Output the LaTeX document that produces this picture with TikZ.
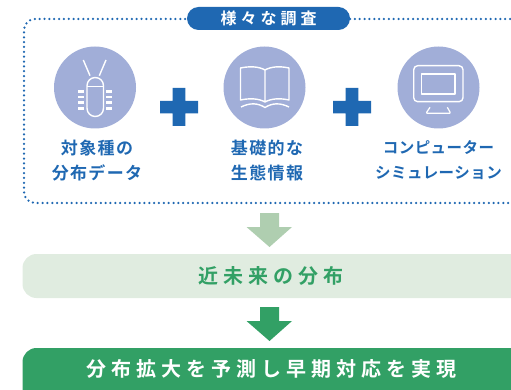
\documentclass[tikz,border=0pt]{standalone}
\usepackage{fontspec}
\setmainfont{Noto Sans CJK JP}
\newfontfamily\jpA[LetterSpace=8]{Noto Sans CJK JP Bold}
\newfontfamily\jpK[LetterSpace=3]{Noto Sans CJK JP Bold}
\newfontfamily\jpB[LetterSpace=25]{Noto Sans CJK JP Bold}
\definecolor{blueA}{HTML}{1F68B2}
\definecolor{discA}{HTML}{A1AED8}
\definecolor{greenA}{HTML}{32A065}
\definecolor{greenL}{HTML}{AFCEB0}
\definecolor{panelA}{HTML}{E0ECE0}
\tikzset{
  disc/.style={circle,fill=discA,minimum size=82pt,inner sep=0pt},
  icon/.style={draw=white,line width=1.4pt,line join=round},
  legbar/.style={fill=white,draw=none},
  plusmark/.style={fill=blueA,draw=none},
  capt/.style={text=blueA,font=\fontsize{17}{18}\selectfont\jpA,inner sep=0pt,anchor=center},
  captk/.style={text=blueA,font=\fontsize{15.5}{18}\selectfont\jpK,inner sep=0pt,anchor=center},
}
\begin{document}
\begin{tikzpicture}[x=1pt,y=-1pt]
\useasboundingbox (0,0) rectangle (511,390);
% dotted frame
\draw[blueA,line width=2.5pt,line cap=round,dash pattern=on 0pt off 4.85pt,rounded corners=11pt]
  (190,19) -- (24,19) -- (24,203) -- (530,203);
\draw[blueA,line width=2.5pt,line cap=round,dash pattern=on 0pt off 4.85pt]
  (350,19) -- (530,19);
% banner
\node[fill=blueA,rounded corners=11.5pt,minimum width=163pt,minimum height=23pt,inner sep=0pt,
      text=white,font=\fontsize{16}{18}\selectfont\jpB] (banner) at (268.5,18.5) {様々な調査};
% discs
\node[disc] (d1) at (95,87.5) {};
\node[disc] (d2) at (264.5,87.5) {};
\node[disc] (d3) at (438.5,87.5) {};
% bug
\draw[icon] (83.3,60) -- (90,75.7) (106,60) -- (99.3,75.7);
\draw[icon] (87,86.5) -- (103.5,86.5);
\draw[icon,rounded corners=8.2pt] (87,116.5) rectangle (103.5,77.5);
\foreach \yy in {90,95.7,101,107}{
  \fill[legbar] (77.5,\yy) rectangle (84,\yy+2.6);
  \fill[legbar] (106,\yy) rectangle (112,\yy+2.6);
}
% book
\draw[icon] (265,70) .. controls (259,66.5) and (250,66) .. (240.5,68) -- (240.5,100)
  .. controls (250,98) and (259,98.5) .. (265,102)
  .. controls (271,98.5) and (280,98) .. (289,100) -- (289,68)
  .. controls (280,66) and (271,66.5) .. (265,70) -- (265,102);
\draw[icon] (241,107) .. controls (250,102.5) and (258,103) .. (265,107.5) .. controls (272,103) and (280,102.5) .. (289,107);
% monitor
\draw[icon,rounded corners=4pt] (413.7,65.7) rectangle (463,101.7);
\draw[icon] (421.7,74) rectangle (455,94);
\draw[icon,line width=1.2pt,rounded corners=1pt] (430,107.3) -- (426,113.3) -- (450.7,113.3) -- (447.3,107.3);
% plus
\foreach \xx in {179,352}{
  \fill[plusmark] (\xx-6.3,88) -- (\xx+6.3,88) -- (\xx+6.3,101) -- (\xx+19,101) -- (\xx+19,113.5) -- (\xx+6.3,113.5)
    -- (\xx+6.3,126) -- (\xx-6.3,126) -- (\xx-6.3,113.5) -- (\xx-19,113.5) -- (\xx-19,101) -- (\xx-6.3,101) -- cycle;
}
% captions
\node[capt] (c1a) at (97,148) {対象種の};
\node[capt] (c1b) at (97,173) {分布データ};
\node[capt] (c2a) at (267,148) {基礎的な};
\node[capt] (c2b) at (267,173) {生態情報};
\node[captk] (c3a) at (438.5,148) {コンピューター};
\node[captk] (c3b) at (438.5,173) {シミュレーション};
% arrows
\fill[greenL] (260,213) -- (279,213) -- (279,227) -- (292,227) -- (269.5,247) -- (246.5,227) -- (260,227) -- cycle;
\fill[greenA] (260,307) -- (279,307) -- (279,321) -- (292,321) -- (269.5,341) -- (246.5,321) -- (260,321) -- cycle;
% panels
\fill[panelA,rounded corners=14pt] (22.5,254) rectangle (540,298);
\node[text=greenA,font=\fontsize{20}{24}\selectfont\jpB,inner sep=0pt] (t1) at (271,275.5) {近未来の分布};
\fill[greenA,rounded corners=14pt] (22.5,348) rectangle (540,420);
\node[text=white,font=\fontsize{20}{24}\selectfont\jpB,inner sep=0pt] (t2) at (271.5,369) {分布拡大を予測し早期対応を実現};
\end{tikzpicture}
\end{document}
